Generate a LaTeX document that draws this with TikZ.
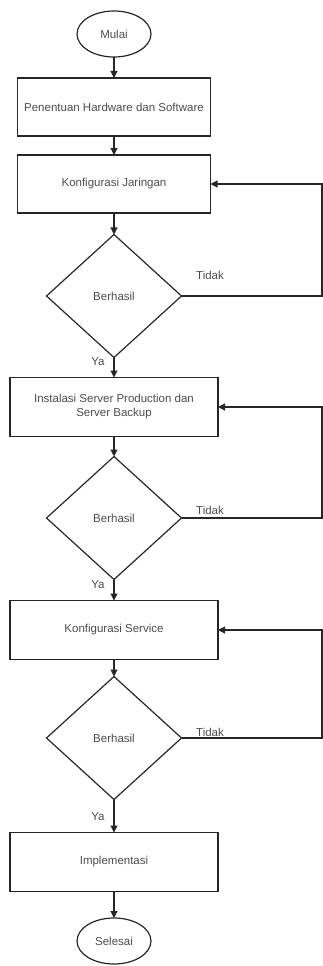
\documentclass[tikz,border=0pt]{standalone}
\usepackage{fontspec}
\setmainfont{Liberation Sans}
\usetikzlibrary{shapes.geometric,arrows.meta}

\begin{document}
\begin{tikzpicture}
    [x=1pt,y=-1pt,line width=1.2pt,
    every node/.style={font=\fontsize{11.5}{14}\selectfont,text=black!70,inner sep=0pt,outer sep=0pt},
    startstop/.style={draw=black!85,ellipse,minimum width=74pt,minimum height=46pt},
    process/.style={draw=black!85,rectangle,minimum width=193pt,minimum height=58pt},
    wideprocess/.style={process,minimum width=208pt,minimum height=59pt},
    decision/.style={draw=black!85,diamond,minimum width=135pt,minimum height=123pt},
    flow/.style={draw=black!85,-{Triangle[length=7pt,width=7pt]}}]
    \useasboundingbox (0,0) rectangle (323,966);
    \node[startstop] (mulai) at (114,34) {Mulai};
    \node[process] (hw) at (114,107) {Penentuan Hardware dan Software};
    \node[process] (jar) at (114,184) {Konfigurasi Jaringan};
    \node[decision] (cek1) at (114,296) {Berhasil};
    \node[wideprocess,align=center] (inst) at (114,407) {Instalasi Server Production dan\\Server Backup};
    \node[decision] (cek2) at (114,518) {Berhasil};
    \node[wideprocess] (svc) at (114,630) {Konfigurasi Service};
    \node[decision] (cek3) at (114,738) {Berhasil};
    \node[wideprocess] (impl) at (114,862) {Implementasi};
    \node[startstop] (selesai) at (114,941) {Selesai};
    \coordinate (r1) at (322,184);
    \coordinate (r2) at (322,407);
    \coordinate (r3) at (322,630);
    \node (t1) at (210,275) {Tidak};
    \node (t2) at (210,510) {Tidak};
    \node (t3) at (210,732) {Tidak};
    \node (y1) at (98,362) {Ya};
    \node (y2) at (98,585) {Ya};
    \node (y3) at (98,817) {Ya};
    \draw[flow] (mulai) -- (hw);
    \draw[flow] (hw) -- (jar);
    \draw[flow] (jar) -- (cek1);
    \draw[flow] (cek1) -- (inst);
    \draw[flow] (inst) -- (cek2);
    \draw[flow] (cek2) -- (svc);
    \draw[flow] (svc) -- (cek3);
    \draw[flow] (cek3) -- (impl);
    \draw[flow] (impl) -- (selesai);
    \draw[flow] (cek1.east) -| (r1) -- (jar.east);
    \draw[flow] (cek2.east) -| (r2) -- (inst.east);
    \draw[flow] (cek3.east) -| (r3) -- (svc.east);
\end{tikzpicture}
\end{document}
